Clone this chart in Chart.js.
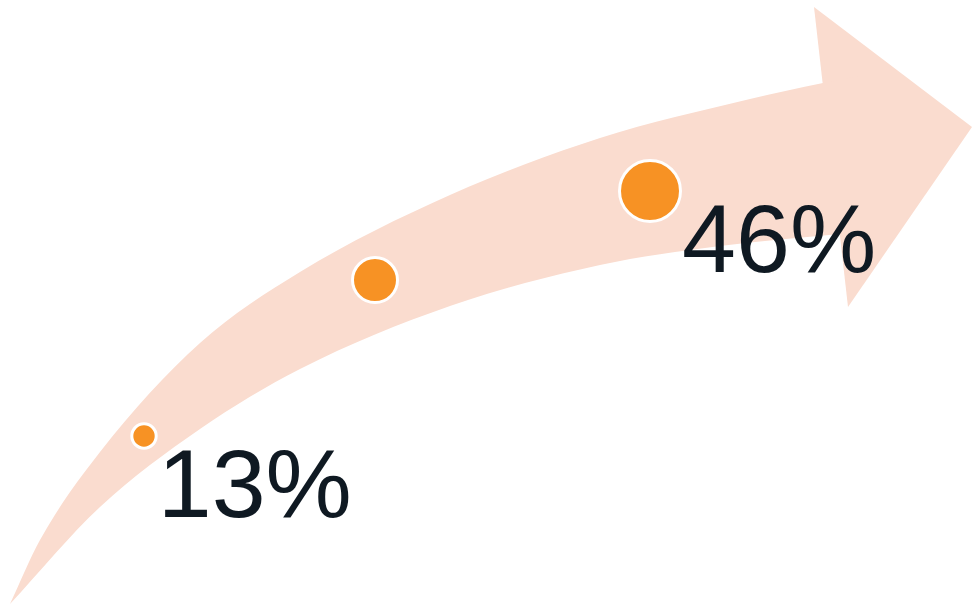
<!DOCTYPE html>
<html>
<head>
<meta charset="utf-8">
<script src="https://cdn.jsdelivr.net/npm/chart.js@4/dist/chart.umd.min.js"></script>
<style>
  html, body { margin: 0; padding: 0; background: #ffffff; }
  #wrap { width: 972px; height: 608px; position: relative; }
</style>
</head>
<body>
<div id="wrap"><canvas id="chart"></canvas></div>
<script>
// growth dots: position along the arrow and the value (in %)
var dotX = [144, 375, 650]
var dotValues = [13, 34, 46]
var dotLabelShown = [true, false, true]

// arrow body (x = position, y = % scale)
var upperEdgeX = [10, 40, 100, 200, 300, 450, 600, 750, 823, 860]
var upperEdgeY = [-9.63, -1.01, 10.84, 25.52, 35.09, 45.46, 53.14, 58.39, 60.55, 61.49]
var lowerEdgeX = [10, 100, 200, 300, 450, 600, 720, 840, 860]
var lowerEdgeY = [-9.63, 3.43, 13.94, 22.02, 30.51, 36.03, 38.59, 40.21, 40.48]
var headX = [814, 972, 848, 814]
var headY = [70.78, 54.62, 30.37, 70.78]

// styles
var arrowColour = '#fadccf'
var dotColour = '#f79224'
var textColour = '#0f1922'
var dotRadius = [12.2, 22.5, 30.5]

function toPoints(xs, ys) {
    let pts = []
    for (let i = 0; i < xs.length; i++) {
        pts.push({x: xs[i], y: ys[i]})
    }
    return pts
}

var labelPlugin = {
    id: 'dotLabels',
    afterDatasetsDraw: function (chart) {
        let ctx = chart.ctx
        let meta = chart.getDatasetMeta(0)
        ctx.save()
        ctx.fillStyle = textColour
        ctx.font = '97px "Liberation Sans", Arial, sans-serif'
        ctx.textAlign = 'left'
        ctx.textBaseline = 'alphabetic'
        meta.data.forEach(function (pt, i) {
            if (!dotLabelShown[i]) return
            ctx.fillText(dotValues[i] + '%', pt.x + dotRadius[i] + 1.5, pt.y + 81.5)
        })
        ctx.restore()
    }
}

window.addEventListener('load', function () {
    var ctx = document.getElementById('chart').getContext('2d')

    var myChart = new Chart(ctx, {
        type: 'line',
        data: {
            datasets: [
                {
                    label: 'dots',
                    data: toPoints(dotX, dotValues),
                    showLine: false,
                    pointRadius: dotRadius,
                    pointHoverRadius: dotRadius,
                    pointBackgroundColor: dotColour,
                    pointBorderColor: '#ffffff',
                    pointBorderWidth: 3,
                    clip: false
                },
                {
                    label: 'upper',
                    data: toPoints(upperEdgeX, upperEdgeY),
                    borderWidth: 0,
                    borderColor: 'rgba(0,0,0,0)',
                    backgroundColor: arrowColour,
                    pointRadius: 0,
                    cubicInterpolationMode: 'monotone',
                    fill: 2
                },
                {
                    label: 'lower',
                    data: toPoints(lowerEdgeX, lowerEdgeY),
                    borderWidth: 0,
                    borderColor: 'rgba(0,0,0,0)',
                    pointRadius: 0,
                    cubicInterpolationMode: 'monotone',
                    fill: false
                },
                {
                    label: 'head',
                    data: toPoints(headX, headY),
                    borderWidth: 0,
                    borderColor: 'rgba(0,0,0,0)',
                    backgroundColor: arrowColour,
                    pointRadius: 0,
                    tension: 0,
                    fill: 'shape'
                }
            ]
        },
        options: {
            responsive: true,
            maintainAspectRatio: false,
            animation: false,
            layout: { padding: 0, autoPadding: false },
            plugins: {
                legend: { display: false },
                tooltip: { enabled: false }
            },
            scales: {
                x: { type: 'linear', min: 0, max: 972, display: false },
                y: { type: 'linear', min: -10.17, max: 71.72, display: false }
            }
        },
        plugins: [labelPlugin]
    })
})
</script>
</body>
</html>
